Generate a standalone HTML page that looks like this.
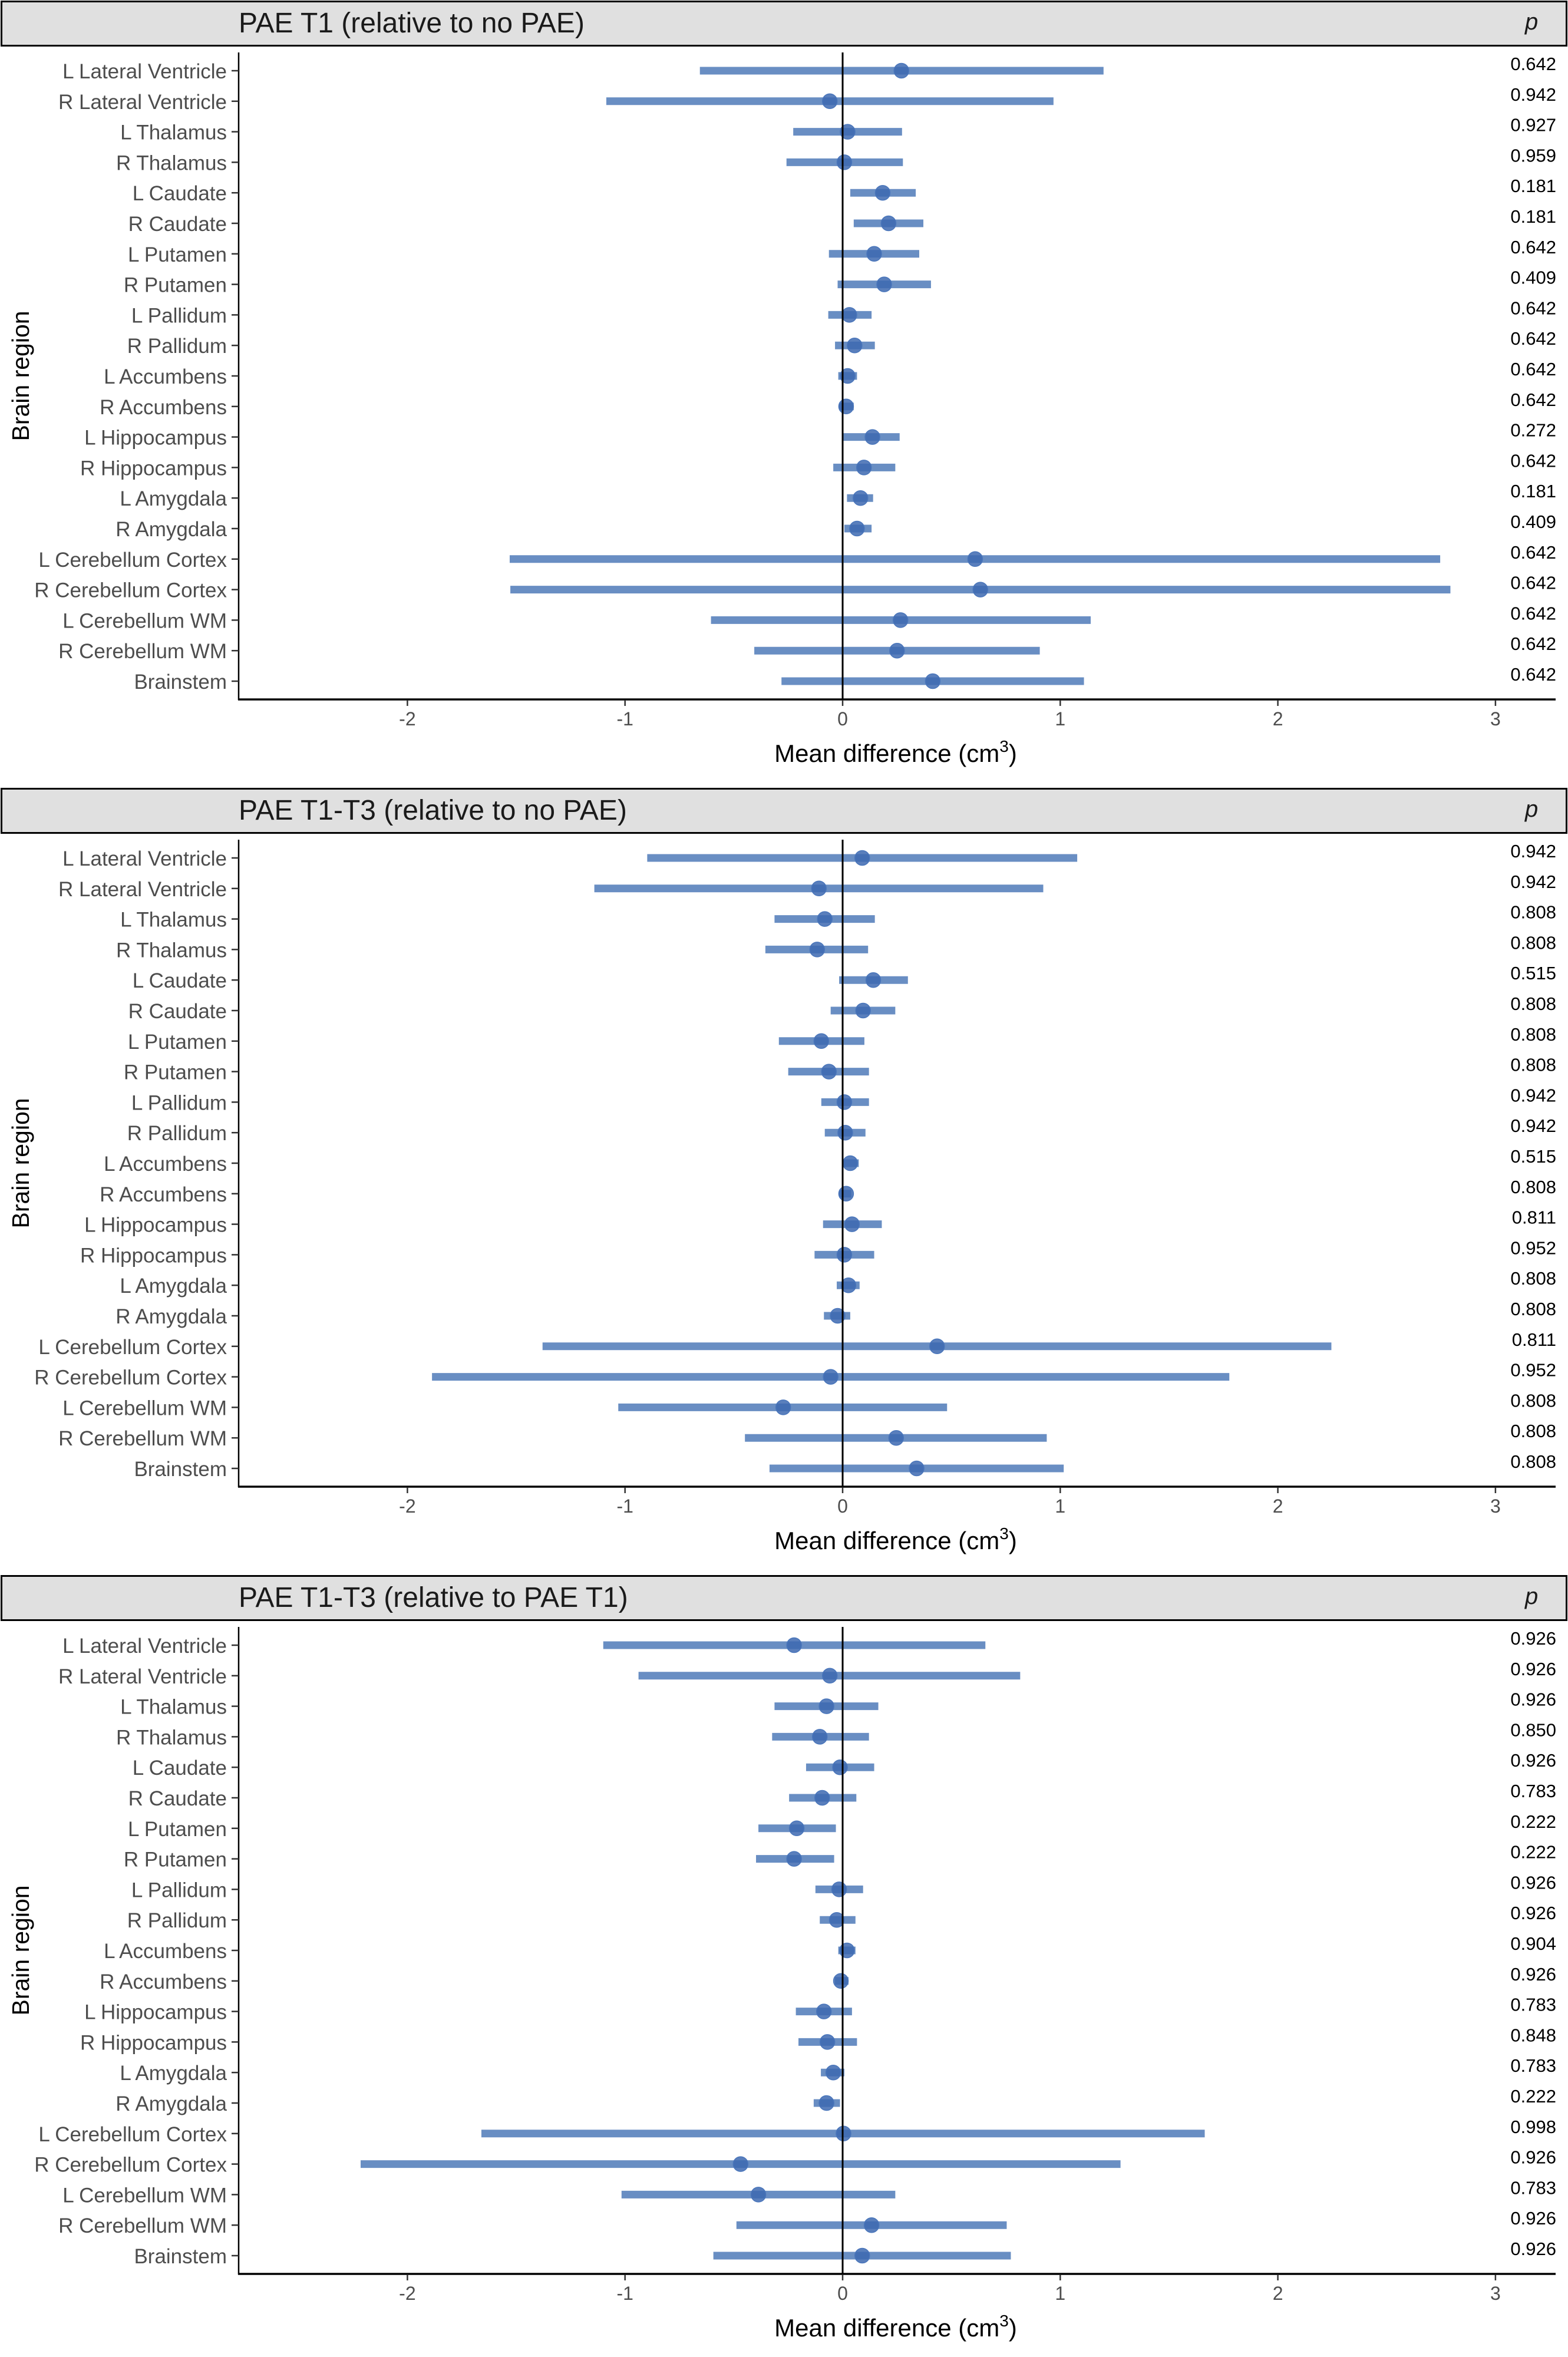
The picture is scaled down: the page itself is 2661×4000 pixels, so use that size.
<!DOCTYPE html>
<html><head><meta charset="utf-8">
<style>
html,body{margin:0;padding:0;background:#fff;}
svg{display:block;font-family:"Liberation Sans",Arial,sans-serif;}
</style></head>
<body>
<svg id="chart" width="2661" height="4000" viewBox="0 0 2661 4000" xmlns="http://www.w3.org/2000/svg"></svg>
<script>
const regions = ["L Lateral Ventricle","R Lateral Ventricle","L Thalamus","R Thalamus","L Caudate","R Caudate","L Putamen","R Putamen","L Pallidum","R Pallidum","L Accumbens","R Accumbens","L Hippocampus","R Hippocampus","L Amygdala","R Amygdala","L Cerebellum Cortex","R Cerebellum Cortex","L Cerebellum WM","R Cerebellum WM","Brainstem"];
const panelTitles = ["PAE T1 (relative to no PAE)","PAE T1-T3 (relative to no PAE)","PAE T1-T3 (relative to PAE T1)"];
const xTicks = [-2,-1,0,1,2,3];

const p1Est = [0.27,-0.059,0.023,0.008,0.184,0.211,0.145,0.191,0.031,0.055,0.023,0.016,0.137,0.098,0.082,0.066,0.609,0.633,0.266,0.25,0.414];
const p1Lo  = [-0.656,-1.086,-0.227,-0.258,0.035,0.051,-0.063,-0.023,-0.066,-0.035,-0.02,-0.016,0.004,-0.043,0.02,0.008,-1.53,-1.527,-0.605,-0.406,-0.281];
const p1Hi  = [1.199,0.969,0.273,0.277,0.336,0.371,0.352,0.406,0.133,0.148,0.066,0.051,0.262,0.242,0.14,0.133,2.746,2.793,1.14,0.906,1.109];
const p1P   = ["0.642","0.942","0.927","0.959","0.181","0.181","0.642","0.409","0.642","0.642","0.642","0.642","0.272","0.642","0.181","0.409","0.642","0.642","0.642","0.642","0.642"];

const p2Est = [0.09,-0.109,-0.082,-0.117,0.141,0.094,-0.098,-0.063,0.008,0.012,0.035,0.016,0.043,0.008,0.027,-0.023,0.434,-0.055,-0.273,0.246,0.34];
const p2Lo  = [-0.898,-1.141,-0.313,-0.355,-0.016,-0.055,-0.293,-0.25,-0.098,-0.082,0.0,-0.016,-0.09,-0.129,-0.027,-0.086,-1.379,-1.887,-1.031,-0.449,-0.336];
const p2Hi  = [1.078,0.922,0.148,0.117,0.30,0.242,0.10,0.121,0.121,0.105,0.074,0.04,0.18,0.145,0.078,0.035,2.246,1.777,0.48,0.938,1.016];
const p2P   = ["0.942","0.942","0.808","0.808","0.515","0.808","0.808","0.808","0.942","0.942","0.515","0.808","0.811","0.952","0.808","0.808","0.811","0.952","0.808","0.808","0.808"];

const p3Est = [-0.223,-0.059,-0.074,-0.105,-0.012,-0.094,-0.211,-0.223,-0.016,-0.027,0.02,-0.008,-0.086,-0.07,-0.043,-0.074,0.004,-0.469,-0.387,0.133,0.09];
const p3Lo  = [-1.10,-0.938,-0.313,-0.324,-0.168,-0.246,-0.387,-0.398,-0.125,-0.105,-0.02,-0.035,-0.215,-0.203,-0.10,-0.133,-1.66,-2.215,-1.016,-0.488,-0.594];
const p3Hi  = [0.656,0.816,0.164,0.121,0.145,0.063,-0.031,-0.039,0.094,0.059,0.059,0.027,0.043,0.066,0.008,-0.012,1.664,1.277,0.242,0.754,0.773];
const p3P   = ["0.926","0.926","0.926","0.850","0.926","0.783","0.222","0.222","0.926","0.926","0.904","0.926","0.783","0.848","0.783","0.222","0.998","0.926","0.783","0.926","0.926"];

const panelEst = [p1Est,p2Est,p3Est];
const panelLo = [p1Lo,p2Lo,p3Lo];
const panelHi = [p1Hi,p2Hi,p3Hi];
const panelP = [p1P,p2P,p3P];

const NS = "http://www.w3.org/2000/svg";
const svg = document.getElementById("chart");
function mk(tag, attrs, parent, text){
  const e = document.createElementNS(NS, tag);
  for (const k in attrs) e.setAttribute(k, attrs[k]);
  if (text !== undefined) e.textContent = text;
  (parent||svg).appendChild(e);
  return e;
}
const X0 = 1430, UNIT = 369.3, AXL = 405, AXR = 2640;
function xs(v){ return X0 + v*UNIT; }
const PANEL_DY = 1336;
function ys(i, oy){ return oy + 120 + i*51.8; }

for (let k=0;k<3;k++){
  const oy = k*PANEL_DY;
  const g = mk("g",{});
  
  
  const hdr = mk("rect",{x:2.5,y:oy+2.5,width:2656,height:75,fill:"#e0e0e0",stroke:"#000","stroke-width":3},g);
  
  
  const t = mk("text",{x:405,y:oy+55,"font-size":48,fill:"#1a1a1a"},g,panelTitles[k]);
  
  
  const pl = mk("text",{x:2588,y:oy+50,"font-size":40,"font-style":"italic",fill:"#1a1a1a"},g,"p");
  
  

  const ya = mk("line",{x1:AXL,y1:oy+89,x2:AXL,y2:oy+1188,stroke:"#000","stroke-width":2.5},g);
  
  
  const xa = mk("line",{x1:AXL-1,y1:oy+1187,x2:AXR,y2:oy+1187,stroke:"#000","stroke-width":3.5},g);
  
  

  xTicks.forEach(v=>{
    const tk = mk("line",{x1:xs(v),y1:oy+1188,x2:xs(v),y2:oy+1198,stroke:"#333","stroke-width":2.5},g);
    
    
    const tl = mk("text",{x:xs(v),y:oy+1231,"font-size":32,fill:"#4d4d4d","text-anchor":"middle"},g,String(v));
    
    
  });

  const xt = mk("text",{x:1520,y:oy+1293,"font-size":42,fill:"#000","text-anchor":"middle"},g);
  
  
  xt.appendChild(document.createTextNode("Mean difference (cm"));
  mk("tspan",{"font-size":28,dy:-17},xt,"3");
  mk("tspan",{"font-size":42,dy:17},xt,")");

  const yt = mk("text",{x:0,y:0,"font-size":41,fill:"#000","text-anchor":"middle",transform:`translate(49,${oy+638}) rotate(-90)`},g,"Brain region");
  
  

  const est = panelEst[k], lo = panelLo[k], hi = panelHi[k], pv = panelP[k];
  regions.forEach((r,i)=>{
    const y = ys(i,oy);
    const lt = mk("line",{x1:AXL-12,y1:y,x2:AXL,y2:y,stroke:"#333","stroke-width":2.5},g);
    
    
    const lb = mk("text",{x:385,y:y+13,"font-size":35,fill:"#4d4d4d","text-anchor":"end"},g,r);
    
    
    const ci = mk("line",{x1:xs(lo[i]),y1:y,x2:xs(hi[i]),y2:y,stroke:"#4472b4","stroke-opacity":0.8,"stroke-width":13},g);
    
    
    const pt = mk("circle",{cx:xs(est[i]),cy:y,r:12.5,fill:"#3d68b0","fill-opacity":0.85,stroke:"#4a76bb","stroke-width":1.5},g);
    
    
    const ptx = mk("text",{x:2641,y:y-1,"font-size":31,fill:"#000","text-anchor":"end"},g,pv[i]);
    
    
  });
  const zl = mk("line",{x1:xs(0),y1:oy+89,x2:xs(0),y2:oy+1187,stroke:"#000","stroke-width":3},g);
  
  
}
</script>
</body></html>
